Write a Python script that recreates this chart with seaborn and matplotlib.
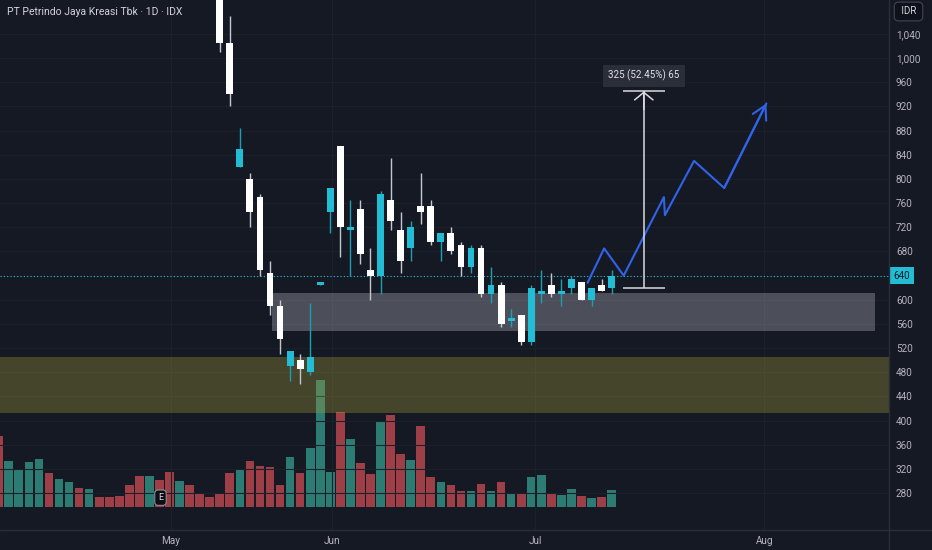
import numpy as np
import pandas as pd
import matplotlib.pyplot as plt
import matplotlib.ticker as mtick
import seaborn as sns

sns.set_theme(style="dark")
plt.rcParams["font.family"] = ["Roboto", "DejaVu Sans"]

BG = "#151924"
GRID = "#1c202b"
SEP = "#2a2e39"
TXT = "#b2b5be"
TEAL = "#22bcd4"
TEAL_WICK = "#1b9fb3"
WHITE = "#ffffff"
WICK = "#c4c7cd"
VOL_UP = "#2c7c74"
VOL_DN = "#9e3f47"
BLUE = "#3063e8"
MEAS = "#d8dbe0"

# ── Data ──────────────────────────────────────────────────────────────────────
# volume for every bar on screen (relative units)
day = np.arange(62)
volume = [70.7, 45.4, 37.7, 44.4, 47.4, 33.4, 27.7, 24.4, 18.7, 17.4,
          10.0, 9.4, 10.7, 21.7, 30.4, 30.4, 26.7, 34.7, 26.0, 21.4,
          12.7, 9.4, 13.7, 33.7, 36.7, 45.4, 41.0, 40.0, 21.7, 49.4,
          33.7, 58.4, 126.7, 34.7, 94.4, 68.0, 43.7, 33.0, 85.0, 91.4,
          52.7, 46.7, 80.4, 29.7, 24.4, 21.7, 16.0, 15.4, 22.4, 15.4,
          24.4, 13.7, 13.7, 29.4, 31.4, 12.7, 12.0, 17.7, 10.4, 8.4,
          9.4, 16.4]
vol_dir = ["down", "up", "up", "up", "up", "down", "up", "up", "down", "up",
           "down", "down", "down", "down", "down", "up", "down", "down", "up", "down",
           "down", "down", "down", "down", "up", "down", "down", "down", "down", "up",
           "down", "up", "up", "up", "down", "up", "down", "down", "up", "down",
           "down", "up", "down", "down", "up", "down", "down", "up", "down", "up",
           "down", "up", "down", "up", "up", "down", "up", "up", "down", "up",
           "down", "up"]

# candles visible in the price pane (earlier bars sit above the view)
c_day = np.arange(22, 62)
c_open = [1120, 1025, 820, 800, 770, 645, 590, 490, 500, 480,
          625, 745, 855, 715, 750, 650, 640, 765, 715, 685,
          755, 755, 695, 710, 690, 655, 685, 610, 625, 565,
          575, 530, 610, 625, 610, 620, 630, 600, 625, 620]
c_high = [1140, 1070, 885, 810, 775, 665, 600, 515, 510, 595,
          630, 785, 855, 765, 765, 685, 780, 835, 745, 730,
          810, 765, 710, 720, 695, 690, 690, 655, 630, 585,
          575, 625, 650, 645, 635, 640, 630, 620, 635, 650]
c_low = [1010, 920, 820, 720, 640, 575, 510, 465, 460, 475,
         625, 710, 670, 640, 660, 600, 610, 715, 645, 665,
         725, 690, 665, 675, 640, 645, 605, 595, 555, 555,
         525, 525, 595, 605, 590, 610, 600, 590, 615, 610]
c_close = [1025, 940, 850, 745, 650, 590, 535, 515, 485, 505,
           630, 785, 720, 720, 675, 640, 775, 730, 665, 720,
           745, 695, 710, 680, 655, 685, 610, 625, 560, 570,
           530, 620, 615, 610, 615, 635, 600, 620, 615, 640]
last_price = 640

# zones
demand_lo, demand_hi = 412.5, 504.7
box_x = [27.2, 87.2]
box_lo, box_hi = 549, 611

# projected path (hand-drawn)
proj_x = [58.6, 60.25, 62.2, 66.2, 66.3, 69.2, 72.2, 76.4]
proj_y = [628, 685, 640, 770, 740, 830, 785, 925]

# price-range measurement
meas_x, meas_x0, meas_x1 = 64.2, 62.1, 66.3
meas_lo, meas_hi = 620, 945
meas_text = "325 (52.45%) 65"

month_pos = [17.1, 33.2, 53.4, 76.2]
month_lab = ["May", "Jun", "Jul", "Aug"]
price_ticks = list(range(280, 1041, 40))

# ── Figure ────────────────────────────────────────────────────────────────────
fig = plt.figure(figsize=(9.32, 5.5), dpi=100)
fig.patch.set_facecolor(BG)
ax = fig.add_axes([0, 20 / 550, 889 / 932, 530 / 550])
ax.patch.set_visible(False)
vax = ax.twinx()
vax.set_zorder(ax.get_zorder() - 1)
vax.patch.set_visible(False)

# volume
vol_df = pd.DataFrame({"day": day, "volume": volume, "dir": vol_dir})
sns.barplot(data=vol_df, x="day", y="volume", hue="dir",
            palette={"up": VOL_UP, "down": VOL_DN}, native_scale=True,
            width=0.86, dodge=False, errorbar=None, legend=False,
            saturation=1, linewidth=0, ax=vax)
vax.set_ylim(-23.3, 506.7)
vax.set_yticks([])
vax.set_xlabel("")
vax.set_ylabel("")

# zones
ax.axhspan(demand_lo, demand_hi, color="#a09a3a", alpha=0.35, lw=0, zorder=1)
ax.fill_between(box_x, box_lo, box_hi, color="#bec0c8", alpha=0.33, lw=0, zorder=2)
ax.axhline(last_price, color=TEAL, lw=0.8, ls=(0, (1, 2)), zorder=3)

# candles
o, h, l, c = map(np.array, (c_open, c_high, c_low, c_close))
up = c >= o
ax.vlines(c_day, l, h, colors=np.where(up, TEAL_WICK, WICK), lw=1, zorder=4)
ax.bar(c_day, np.maximum(np.abs(c - o), 2), bottom=np.minimum(o, c), width=0.68,
       color=np.where(up, TEAL, WHITE), lw=0, zorder=5)

# projection
sns.lineplot(x=proj_x, y=proj_y, sort=False, estimator=None, color=BLUE, lw=1.5,
             ax=ax, zorder=6)
ax.annotate("", xy=(proj_x[-1], proj_y[-1]), xytext=(proj_x[-2], proj_y[-2]),
            arrowprops=dict(arrowstyle="->,head_length=0.8,head_width=0.45",
                            color=BLUE, lw=1.5, shrinkA=0, shrinkB=0), zorder=6)

# measurement
ax.vlines(meas_x, meas_lo, meas_hi, color=MEAS, lw=1.1, zorder=6)
ax.hlines([meas_lo, meas_hi], meas_x0, meas_x1, color=MEAS, lw=1.1, zorder=6)
ax.annotate("", xy=(meas_x, meas_hi), xytext=(meas_x, meas_hi - 30),
            arrowprops=dict(arrowstyle="->,head_length=0.45,head_width=0.55",
                            color=MEAS, lw=1.1, shrinkA=0, shrinkB=0), zorder=6)
ax.text(meas_x, 971, meas_text, ha="center", va="center", fontsize=7, color="#e0e3e8",
        bbox=dict(boxstyle="square,pad=0.55", fc="#2a2e39", ec="none"), zorder=7)

# earnings marker
ax.text(16.1, 0.061, "E", transform=ax.get_xaxis_transform(), ha="center", va="center",
        fontsize=6.5, color="#d1d4dc", zorder=7,
        bbox=dict(boxstyle="round,pad=0.35", fc="#0c0e14", ec="#8a8d96", lw=0.8))

# axes
ax.set_xlim(0.13, 88.6)
ax.set_ylim(218.8, 1096.3)
ax.yaxis.tick_right()
ax.set_yticks(price_ticks)
ax.yaxis.set_major_formatter(mtick.FuncFormatter(lambda v, _: "" if v == last_price else f"{v:,.0f}"))
ax.set_xticks(month_pos, month_lab)
ax.tick_params(axis="y", length=0, pad=5, labelsize=7.2, labelcolor=TXT)
ax.tick_params(axis="x", length=0, pad=4, labelsize=7.2, labelcolor=TXT)
ax.grid(True, color=GRID, lw=0.8)
ax.set_axisbelow(True)
for a in (ax, vax):
    for s in a.spines.values():
        s.set_visible(False)

ax.text(1.005, last_price, f"{last_price}", transform=ax.get_yaxis_transform(),
        ha="left", va="center", fontsize=7, color="#0b1a22", clip_on=False, zorder=8,
        bbox=dict(boxstyle="square,pad=0.4", fc=TEAL, ec="none"))

fig.add_artist(plt.Line2D([0, 1], [20 / 550] * 2, color=SEP, lw=1, transform=fig.transFigure))
fig.add_artist(plt.Line2D([889 / 932] * 2, [0, 1], color=SEP, lw=1, transform=fig.transFigure))

fig.text(7 / 932, 1 - 12 / 550, "PT Petrindo Jaya Kreasi Tbk · 1D · IDX", fontsize=7.5,
         color="#d1d4dc", va="center", ha="left")
fig.text(908.5 / 932, 1 - 11.5 / 550, " IDR ", fontsize=7, color="#d1d4dc", va="center", ha="center",
         bbox=dict(boxstyle="round,pad=0.45", fc="#0f121a", ec="#434651", lw=0.8))

fig.savefig("out.png", dpi=100, facecolor=BG)
